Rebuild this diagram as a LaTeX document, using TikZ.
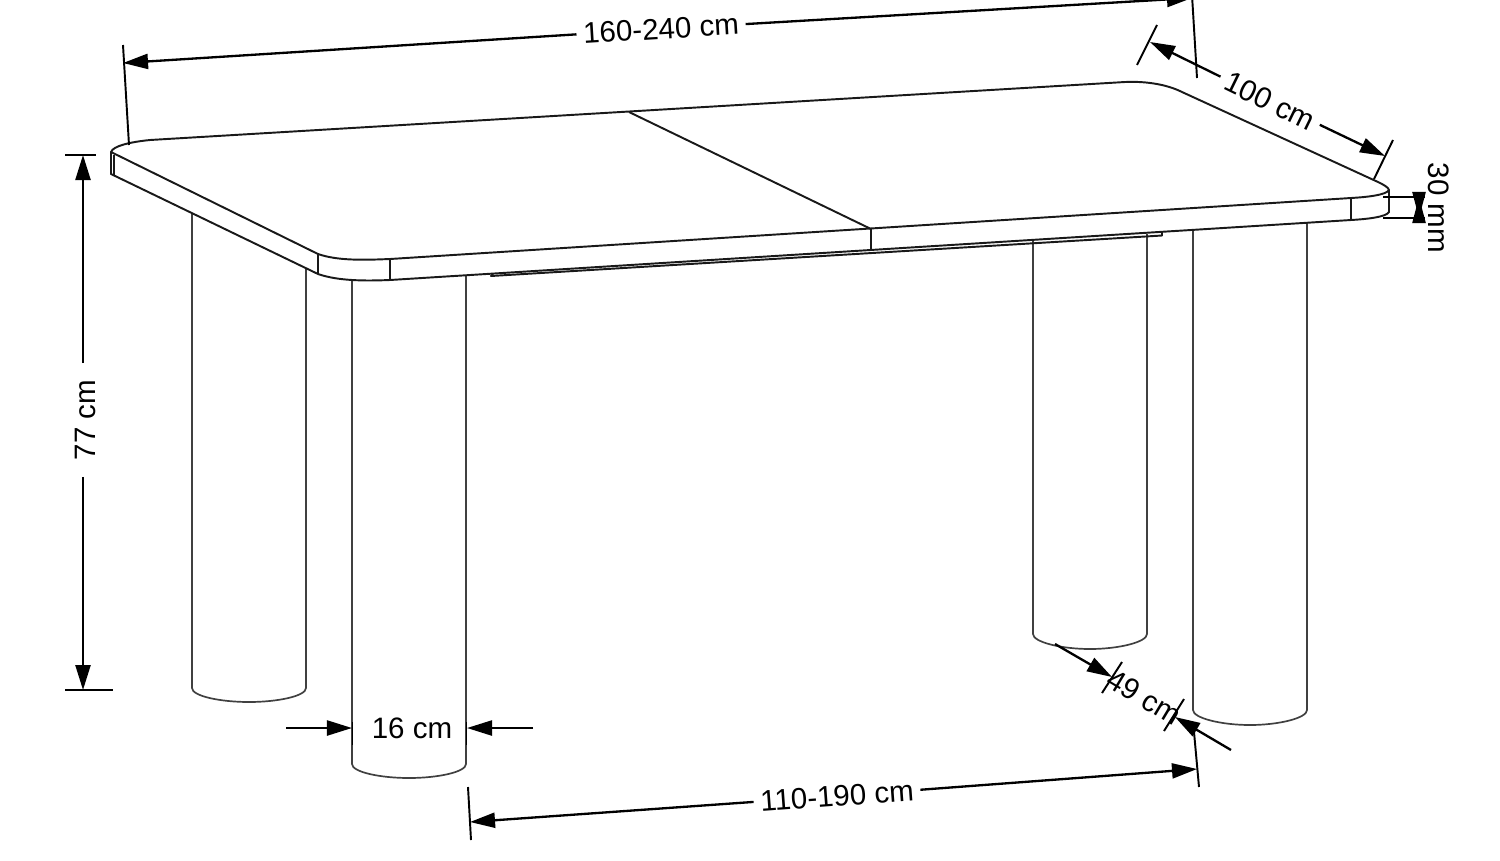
\documentclass[tikz,border=0pt]{standalone}
\usepackage{xcolor}
\usepackage{fontspec}
\setmainfont{Liberation Sans}
\usetikzlibrary{arrows.meta}
\usetikzlibrary{calc}
\usetikzlibrary{positioning}

\begin{document}
\begin{tikzpicture}[x=0.01cm,y=-0.01cm,>={Triangle[length=0.25cm,width=0.15cm]},line join=round]
	\tikzstyle{outline}=[draw=black!90, line width=0.55pt]
	\tikzstyle{leg}=[draw=black!75, line width=0.48pt]
	\tikzstyle{dimline}=[draw=black, line width=0.66pt]
	\tikzstyle{tick}=[draw=black, line width=0.55pt]
	\tikzstyle{dimtext}=[font=\fontsize{8.4}{10}\selectfont, inner ysep=0.02cm, inner xsep=0.06cm]
	\useasboundingbox (0,0) rectangle (1500,860);

	% legs, back ones first
	\draw[leg] (192,214) -- (192,688) .. controls (192,696) and (220,702) .. (249,702) .. controls (278,702) and (306,696) .. (306,688) -- (306,268);
	\draw[leg] (352,279) -- (352,764) .. controls (352,772) and (380,778) .. (409,778) .. controls (438,778) and (466,772) .. (466,764) -- (466,275);
	\draw[leg] (1033,240) -- (1033,634) .. controls (1033,642) and (1061,649) .. (1090,649) .. controls (1119,649) and (1147,642) .. (1147,634) -- (1147,234);
	\draw[leg] (1193,230) -- (1193,710) .. controls (1193,718) and (1221,725) .. (1250,725) .. controls (1279,725) and (1307,718) .. (1307,710) -- (1307,223);

	% table top
	\draw[outline] (111,152) .. controls (113,146) and (130,142) .. (150,140) -- (1125,82) .. controls (1148,81) and (1168,85) .. (1182,92)
		-- (1378,182) .. controls (1384,185) and (1388,187) .. (1389,190) .. controls (1386,195) and (1368,197) .. (1351,198)
		-- (390,259) .. controls (365,260) and (338,261) .. (318,254) -- cycle;
	\draw[outline] (111,152) -- (111,174) -- (318,274) .. controls (338,281) and (365,281) .. (390,280) -- (1351,220) .. controls (1368,219) and (1386,217) .. (1389,212) -- (1389,190);
	\draw[outline] (114,155) -- (114,176);
	\draw[outline] (318,254) -- (318,274);
	\draw[outline] (390,259) -- (390,280);
	\draw[outline] (1351,198) -- (1351,220);
	\draw[outline] (629,112) -- (871,229) -- (871,250);
	\draw[outline] (493,274) -- (491,276) -- (1162,235.5) -- (1162,232);

	% dimension labels
	\node[dimtext, rotate=3.5]   (lengthlab) at (661,29)   {160-240 cm};
	\node[dimtext, rotate=-26]   (depthlab)  at (1270,101) {100 cm};
	\node[dimtext, rotate=-90]   (thicklab)  at (1439,208) {30 mm};
	\node[dimtext, rotate=90, inner xsep=0.16cm] (heightlab) at (85,420) {77 cm};
	\node[dimtext]               (leglab)    at (412,728)  {16 cm};
	\node[dimtext, rotate=-31]   (footlab)   at (1144,697) {49 cm};
	\node[dimtext, rotate=4.2]   (spanlab)   at (837,796)  {110-190 cm};

	% end points
	\coordinate (lengthA) at (123,45);
	\coordinate (lengthB) at (129,145);
	\coordinate (lengthC) at (1192,-5);
	\coordinate (lengthD) at (1197,78);
	\coordinate (lengthL) at (123,63);
	\coordinate (lengthR) at (1192,-2);
	\coordinate (depthA) at (1157,25);
	\coordinate (depthB) at (1137,65);
	\coordinate (depthC) at (1393,140);
	\coordinate (depthD) at (1374,179);
	\coordinate (depthL) at (1150,42);
	\coordinate (depthR) at (1385,156);
	\coordinate (thickA) at (1383,197);
	\coordinate (thickB) at (1425,197);
	\coordinate (thickC) at (1383,218);
	\coordinate (thickD) at (1425,218);
	\coordinate (thickT) at (1419,197);
	\coordinate (thickU) at (1419,218);
	\coordinate (thickV) at (1419,192);
	\coordinate (thickW) at (1419,223);
	\coordinate (heightA) at (65,155);
	\coordinate (heightB) at (96,155);
	\coordinate (heightC) at (65,690);
	\coordinate (heightD) at (113,690);
	\coordinate (heightT) at (83,155);
	\coordinate (heightU) at (83,690);
	\coordinate (legA) at (286,728);
	\coordinate (legB) at (352,728);
	\coordinate (legC) at (533,728);
	\coordinate (legD) at (467,728);
	\coordinate (legE) at (352.5,722);
	\coordinate (legF) at (352.5,745);
	\coordinate (legG) at (466.5,722);
	\coordinate (legH) at (466.5,745);
	\coordinate (footA) at (1055,644);
	\coordinate (footB) at (1112,677);
	\coordinate (footC) at (1231,750);
	\coordinate (footD) at (1175,717);
	\coordinate (footE) at (1122,662);
	\coordinate (footF) at (1102,693);
	\coordinate (footG) at (1184,699);
	\coordinate (footH) at (1164,731);
	\coordinate (spanA) at (468,787);
	\coordinate (spanB) at (471,840);
	\coordinate (spanC) at (1194,732);
	\coordinate (spanD) at (1199,787);
	\coordinate (spanL) at (470,822);
	\coordinate (spanR) at (1197,769);

	% extension lines
	\path[tick]
		(lengthA) edge (lengthB)
		(lengthC) edge (lengthD)
		(depthA) edge (depthB)
		(depthC) edge (depthD)
		(thickA) edge (thickB)
		(thickC) edge (thickD)
		(heightA) edge (heightB)
		(heightC) edge (heightD)
		(legE) edge (legF)
		(legG) edge (legH)
		(footE) edge (footF)
		(footG) edge (footH)
		(spanA) edge (spanB)
		(spanC) edge (spanD);

	% arrows
	\path[dimline]
		(lengthlab) edge [->] (lengthL)
		(lengthlab) edge [->] (lengthR)
		(depthlab) edge [->] (depthL)
		(depthlab) edge [->] (depthR)
		(heightT |- heightlab.east) edge [->] (heightT)
		(heightU |- heightlab.west) edge [->] (heightU)
		(spanlab) edge [->] (spanL)
		(spanlab) edge [->] (spanR)
		(legA) edge [->] (legB)
		(legC) edge [->] (legD)
		(footA) edge [->] (footB)
		(footC) edge [->] (footD)
		(thickV) edge [->, >={Triangle[length=0.26cm,width=0.13cm]}] (thickU)
		(thickW) edge [->, >={Triangle[length=0.26cm,width=0.13cm]}] (thickT);
\end{tikzpicture}
\end{document}
